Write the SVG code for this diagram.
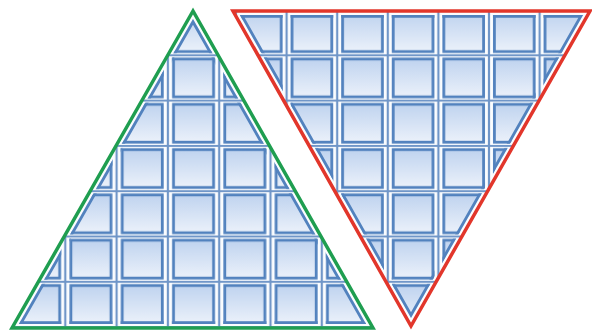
<svg xmlns="http://www.w3.org/2000/svg" width="592" height="331" viewBox="0 0 592 331">
<style>
 .grid{fill:none;stroke:#7096c8;stroke-width:1.1}
 .cell{fill:url(#cellGrad);stroke:#5282be;stroke-width:2.8}
 .sq{fill:#fff}
 .edge{fill:none;stroke:#5282be;stroke-width:5.6}
 .outline{fill:none;stroke-width:3.5;stroke-linejoin:miter}
</style>
<defs>
 <linearGradient id="cellGrad" x1="0" y1="0" x2="0" y2="1">
  <stop offset="0" stop-color="#bfd3ef"/>
  <stop offset="1" stop-color="#ebf1fa"/>
 </linearGradient>
 <!-- green triangle patterns -->
 <pattern id="gGrid" patternUnits="userSpaceOnUse" x="14" y="10" width="51.3" height="45.3">
  <rect width="51.3" height="45.3" fill="#fbfdff"/>
  <path class="grid" d="M0.55 0V45.3M50.75 0V45.3M0 0.55H51.3M0 44.75H51.3"/>
 </pattern>
 <pattern id="gCells" patternUnits="userSpaceOnUse" x="14" y="10" width="51.3" height="45.3">
  <rect class="cell" x="5.6" y="3.7" width="40.1" height="37.9"/>
 </pattern>
 <pattern id="gSqW" patternUnits="userSpaceOnUse" x="14" y="10" width="51.3" height="45.3">
  <rect class="sq" x="4.2" y="2.3" width="42.9" height="40.7"/>
 </pattern>
 <mask id="gMask" maskUnits="userSpaceOnUse" x="0" y="0" width="592" height="331">
  <rect width="592" height="331" fill="url(#gSqW)"/>
 </mask>
 <clipPath id="gIn"><polygon points="193,19.1 18.9,324 366.1,324"/></clipPath>
 <!-- red triangle patterns -->
 <pattern id="rGrid" patternUnits="userSpaceOnUse" x="236" y="10" width="50.6" height="45.3">
  <rect width="50.6" height="45.3" fill="#fbfdff"/>
  <path class="grid" d="M0.55 0V45.3M50.05 0V45.3M0 0.55H50.6M0 44.75H50.6"/>
 </pattern>
 <pattern id="rCells" patternUnits="userSpaceOnUse" x="236" y="10" width="50.6" height="45.3">
  <rect class="cell" x="5.4" y="3.7" width="39.8" height="37.9"/>
 </pattern>
 <pattern id="rSqW" patternUnits="userSpaceOnUse" x="236" y="10" width="50.6" height="45.3">
  <rect class="sq" x="4" y="2.3" width="42.6" height="40.7"/>
 </pattern>
 <mask id="rMask" maskUnits="userSpaceOnUse" x="0" y="0" width="592" height="331">
  <rect width="592" height="331" fill="url(#rSqW)"/>
 </mask>
 <clipPath id="rIn"><polygon points="239.9,15 583.1,15 411,317.9"/></clipPath>
</defs>
<rect width="592" height="331" fill="#ffffff"/>
<g id="green-triangle">
 <polygon points="193,11 12,328 373,328" fill="url(#gGrid)"/>
 <polygon points="193,19.1 18.9,324 366.1,324" fill="url(#gCells)"/>
 <g clip-path="url(#gIn)">
  <polygon class="edge" points="193,19.1 18.9,324 366.1,324" mask="url(#gMask)"/>
 </g>
 <polygon class="outline" points="193,11 12,328 373,328" stroke="#1f9e50"/>
</g>
<g id="red-triangle">
 <polygon points="233,11 590,11 411,326" fill="url(#rGrid)"/>
 <polygon points="239.9,15 583.1,15 411,317.9" fill="url(#rCells)"/>
 <g clip-path="url(#rIn)">
  <polygon class="edge" points="239.9,15 583.1,15 411,317.9" mask="url(#rMask)"/>
 </g>
 <polygon class="outline" points="233,11 590,11 411,326" stroke="#e2362b"/>
</g>
</svg>
